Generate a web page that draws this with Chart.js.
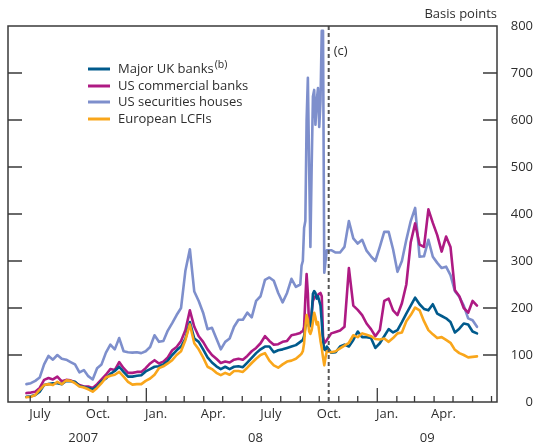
<!DOCTYPE html>
<html><head><meta charset="utf-8">
<script src="https://cdn.jsdelivr.net/npm/chart.js@4/dist/chart.umd.min.js"></script>
<style>html,body{margin:0;padding:0;background:#fff;}canvas{display:block;}</style>
</head><body>
<canvas id="c" width="536" height="448"></canvas>
<script>
// ---- DATA (days since 1 July 2007; spreads in basis points) ----
const days = [-6,1,8,15,22,29,36,43,50,57,64,71,78,85,92,99,106,113,120,127,134,141,148,155,162,169,176,183,190,197,204,211,218,225,232,239,246,253,260,267,274,281,288,295,302,309,316,323,330,337,344,351,358,365,372,379,386,393,400,407,414,421,428,
430,432,434,436,438,440,442,444,446,448,450,452,454,456,458,460,462,464,466,468,470,
477,484,491,498,505,512,519,526,533,540,547,554,561,568,575,582,589,596,603,610,617,624,631,638,645,652,659,666,673,680,687,694,701,708];

const majorUKBanks = [11,12,15,22,36,38,40,40,38,45, 44,43,34,32,30,27,33,44,50,60, 66,75,64,54,54,56,57,65,70,75, 76,80,88,100,110,118,135,170,135,128, 112,95,84,76,70,75,70,75,76,74, 84,94,104,112,118,118,106,110,112,115, 118,121,128,
130,132,140,160,175,172,160,165,185,230,236,232,220,225,215,205,170,130,112,110,118,
105,106,118,122,118,132,150,138,138,136, 115,125,140,155,148,153,170,188,205,222, 208,198,195,208,188,183,178,170,148,156, 167,165,150,146];

const usCommercialBanks = [19,20,22,30,47,51,48,54,44,47, 46,42,36,33,33,30,38,48,58,70, 68,85,72,62,62,64,64,72,82,89, 82,86,95,110,117,130,153,195,160,140, 128,112,100,92,83,86,84,90,92,90, 98,108,115,125,140,130,122,123,128,130, 142,144,147,
150,150,160,220,272,230,160,165,190,215,222,225,225,228,230,232,225,140,125,128,132,
146,149,152,160,285,205,196,185,167,155, 140,153,215,220,195,185,210,250,340,380, 335,330,410,381,355,320,352,330,238,225, 200,190,215,205];

const usSecuritiesHouses = [38,40,45,52,80,98,90,100,92,90, 85,80,63,68,55,48,72,80,105,122, 112,136,108,106,105,106,104,108,117,142, 128,130,152,168,185,200,280,325,235,215, 190,155,158,135,112,128,135,160,175,175, 190,180,215,225,260,265,258,232,212,232, 262,245,250,
290,300,370,385,600,690,500,330,500,650,664,590,640,668,585,640,790,790,275,300,323,
323,318,318,330,385,348,337,345,322,310, 300,330,362,362,325,277,300,345,385,413, 309,310,345,309,296,285,288,270,236,224, 205,178,174,160];

const europeanLCFIs = [10,11,15,26,36,38,36,43,38,46, 45,40,33,31,27,22,30,40,52,56, 58,64,54,43,37,38,38,45,50,58, 72,76,82,89,100,108,132,165,125,112, 95,75,70,62,57,62,58,66,66,64, 73,83,92,100,104,88,78,73,80,86, 88,92,100,
103,108,125,160,185,175,150,145,153,170,190,180,165,170,150,130,115,95,78,95,108,
106,108,114,120,126,142,138,146,143,140, 134,133,135,128,136,146,148,172,185,201, 195,172,153,144,136,138,132,126,111,104, 100,95,96,97];

const seriesNames = ['Major UK banks', 'US commercial banks', 'US securities houses', 'European LCFIs'];
const monthTickLabels = ['July', 'Oct.', 'Jan.', 'Apr.', 'July', 'Oct.', 'Jan.', 'Apr.'];
const yearLabels = ['2007', '08', '09'];
const yTickValues = [0, 100, 200, 300, 400, 500, 600, 700, 800];
const unitLabel = 'Basis points';
const noteLabel = '(c)';
const legendSup = '(b)';

// ---- layout / style ----
const FONT = "'Open Sans', 'Noto Sans', sans-serif";
const TEXT = '#2e2e2e';
const COLORS = ['#005a8c', '#ae1a83', '#7e8fcc', '#f9a61b'];
const X_MIN = -35.2, X_MAX = 739.7;
const ANNOT_DAY = 473;
const YEAR_LABEL_DAYS = [84, 357, 629];

function dayOf(y, m) { return (Date.UTC(y, m, 1) - Date.UTC(2007, 6, 1)) / 86400000; }
const monthStarts = [];
for (let k = 0; k <= 24; k++) monthStarts.push({ day: dayOf(2007, 6 + k), jan: ((6 + k) % 12) === 0 });
const monthLabelDays = [0, 3, 6, 9, 12, 15, 18, 21].map(k => (dayOf(2007, 6 + k) + dayOf(2007, 7 + k)) / 2);

const seriesData = [majorUKBanks, usCommercialBanks, usSecuritiesHouses, europeanLCFIs];
const drawOrder = [1, 2, 3, 0];

Chart.defaults.font.family = FONT;
Chart.defaults.color = TEXT;

const overlay = {
  id: 'overlay',
  afterDatasetsDraw(chart) {
    const { ctx, chartArea: a, scales } = chart;
    const xs = scales.x, ys = scales.y;
    ctx.save();
    // dashed annotation line
    const xd = xs.getPixelForValue(ANNOT_DAY);
    ctx.strokeStyle = '#555';
    ctx.lineWidth = 2;
    ctx.setLineDash([4, 3]);
    ctx.beginPath(); ctx.moveTo(xd, a.top); ctx.lineTo(xd, a.bottom); ctx.stroke();
    ctx.setLineDash([]);
    // frame
    ctx.strokeStyle = '#3a3a3a';
    ctx.lineWidth = 1.5;
    ctx.strokeRect(a.left, a.top, a.right - a.left, a.bottom - a.top);
    // y ticks (inside, both sides)
    ctx.lineWidth = 1.3;
    yTickValues.forEach(v => {
      if (v <= ys.min || v >= ys.max) return;
      const y = ys.getPixelForValue(v);
      ctx.beginPath();
      ctx.moveTo(a.left, y); ctx.lineTo(a.left + 14, y);
      ctx.moveTo(a.right - 14, y); ctx.lineTo(a.right, y);
      ctx.stroke();
    });
    // month ticks on bottom
    monthStarts.forEach(m => {
      if (m.day <= X_MIN || m.day >= X_MAX) return;
      const x = xs.getPixelForValue(m.day);
      ctx.beginPath();
      ctx.moveTo(x, a.bottom); ctx.lineTo(x, a.bottom - (m.jan ? 14 : 6));
      ctx.stroke();
    });
    // texts
    ctx.fillStyle = TEXT;
    ctx.font = '13px ' + FONT;
    ctx.textBaseline = 'middle';
    ctx.textAlign = 'left';
    ctx.fillText(noteLabel, xd + 5, 51);
    ctx.textAlign = 'right';
    ctx.fillText(unitLabel, a.right, 14);
    // legend
    ctx.textAlign = 'left';
    const rows = [69, 86, 102, 119];
    seriesNames.forEach((name, i) => {
      const y = rows[i];
      ctx.strokeStyle = COLORS[i];
      ctx.lineWidth = 3;
      ctx.beginPath(); ctx.moveTo(88, y); ctx.lineTo(110, y); ctx.stroke();
      ctx.fillStyle = TEXT;
      ctx.font = '13px ' + FONT;
      ctx.fillText(name, 118, y);
      if (i === 0) {
        const w = ctx.measureText(name).width;
        ctx.font = '10.5px ' + FONT;
        ctx.fillText(legendSup, 118 + w + 1, y - 4);
      }
    });
    ctx.restore();
  }
};

new Chart(document.getElementById('c'), {
  type: 'line',
  data: {
    datasets: seriesData.map((arr, i) => ({
      label: seriesNames[i],
      data: days.map((d, j) => ({ x: d, y: arr[j] })),
      borderColor: COLORS[i],
      backgroundColor: COLORS[i],
      borderWidth: 2.6,
      pointRadius: 0,
      tension: 0,
      borderJoinStyle: 'round',
      borderCapStyle: 'round',
      order: drawOrder[i]
    }))
  },
  options: {
    responsive: false,
    animation: false,
    devicePixelRatio: 1,
    layout: { padding: { left: 8, top: 26, right: 3, bottom: 0 } },
    plugins: { legend: { display: false }, tooltip: { enabled: false } },
    scales: {
      x: {
        type: 'linear', position: 'bottom', min: X_MIN, max: X_MAX,
        grid: { display: false, drawTicks: false }, border: { display: false },
        afterBuildTicks: s => { s.ticks = monthLabelDays.map(v => ({ value: v })); },
        afterFit: s => { s.height = 24; },
        ticks: { autoSkip: false, maxRotation: 0, padding: 4, color: TEXT, font: { size: 13 },
          callback: (v, i) => monthTickLabels[i] }
      },
      x2: {
        type: 'linear', position: 'bottom', min: X_MIN, max: X_MAX,
        grid: { display: false, drawTicks: false }, border: { display: false },
        afterBuildTicks: s => { s.ticks = YEAR_LABEL_DAYS.map(v => ({ value: v })); },
        afterFit: s => { s.height = 22; },
        ticks: { autoSkip: false, maxRotation: 0, padding: 4, color: TEXT, font: { size: 13 },
          callback: (v, i) => yearLabels[i] }
      },
      y: {
        type: 'linear', position: 'right', min: 0, max: 800,
        grid: { display: false, drawTicks: false }, border: { display: false },
        afterBuildTicks: s => { s.ticks = yTickValues.map(v => ({ value: v })); },
        afterFit: s => { s.width = 36; },
        ticks: { padding: 0, crossAlign: 'far', color: TEXT, font: { size: 13 } }
      }
    }
  },
  plugins: [overlay]
});
</script>
</body></html>
